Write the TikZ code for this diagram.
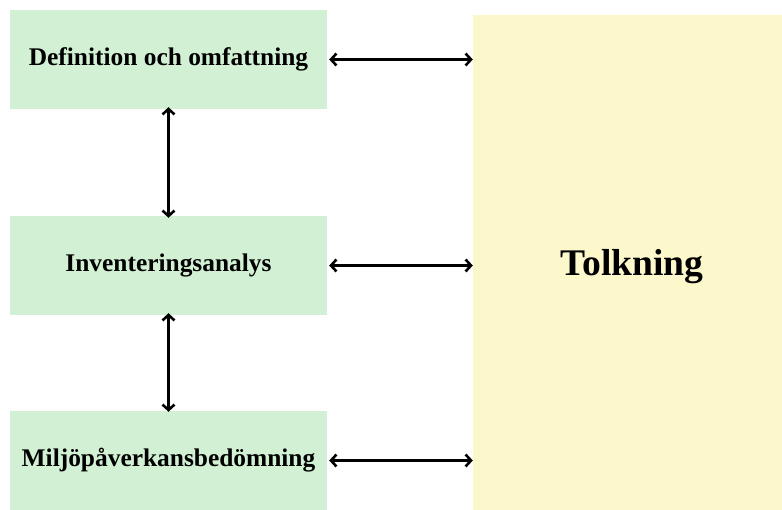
\documentclass[tikz,border=0pt]{standalone}
\usepackage{fontspec}
\setmainfont{Liberation Serif}
\usetikzlibrary{arrows.meta}
\definecolor{boxgreen}{HTML}{D2F1D4}
\definecolor{boxyellow}{HTML}{FDF7CC}
\begin{document}
\begin{tikzpicture}[x=1pt,y=-1pt,
  stagebox/.style={fill=boxgreen,draw=none,minimum width=317pt,minimum height=99pt,inner sep=0pt,font=\bfseries\fontsize{25.4}{30}\selectfont},
  bigbox/.style={fill=boxyellow,draw=none,minimum width=309pt,minimum height=495pt,inner sep=0pt},
  link/.style={line width=2.6pt,{Straight Barb[length=5.5pt,width=12pt]}-{Straight Barb[length=5.5pt,width=12pt]}}]
\useasboundingbox (0,0) rectangle (782,510);
\node[stagebox] (def) at (168.5,59.5) {Definition och omfattning};
\node[stagebox] (inv) at (168.5,265.5) {Inventeringsanalys};
\node[stagebox] (mil) at (168.5,460.5) {Miljöpåverkansbedömning};
\node[bigbox] (tol) at (627.5,262.5) {};
\node (toltext) at (632,267) {\bfseries\fontsize{37.6}{44}\selectfont Tolkning};
\draw[link] ([xshift=2pt]def.east) -- (def.east -| tol.west);
\draw[link] ([xshift=2pt]inv.east) -- (inv.east -| tol.west);
\draw[link] ([xshift=2pt]mil.east) -- (mil.east -| tol.west);
\draw[link] ([yshift=2pt]def.south) -- ([yshift=-2pt]inv.north);
\draw[link] ([yshift=2pt]inv.south) -- ([yshift=-1pt]mil.north);
\end{tikzpicture}
\end{document}
